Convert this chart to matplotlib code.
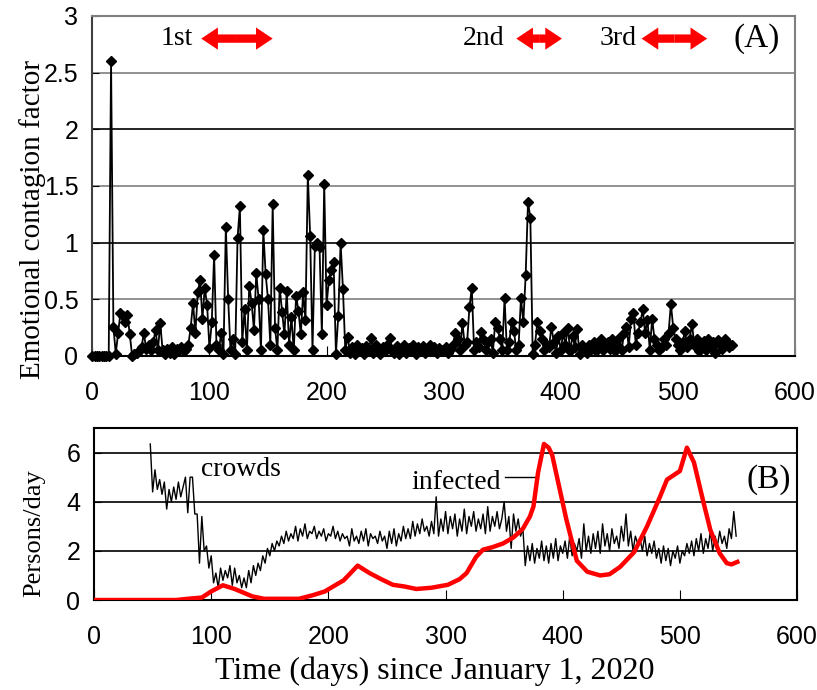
import numpy as np
import matplotlib
matplotlib.use("Agg")
import matplotlib.pyplot as plt

# (A) emotional contagion factor, one value every 2 days from day 0
contagion_days = np.arange(0, 548, 2)
contagion = [
    0, 0, 0, 0, 0, 0, 0, 0, 2.6, 0.26,
    0.02, 0.2, 0.38, 0.35, 0.3, 0.36, 0.19, 0.0, 0.02, 0.03,
    0.04, 0.08, 0.2, 0.06, 0.1, 0.05, 0.12, 0.23, 0.05, 0.29,
    0.05, 0.02, 0.06, 0.03, 0.08, 0.02, 0.06, 0.05, 0.08, 0.04,
    0.06, 0.1, 0.25, 0.47, 0.2, 0.56, 0.67, 0.33, 0.6, 0.45,
    0.07, 0.3, 0.89, 0.1, 0.05, 0.2, 0.02, 1.14, 0.5, 0.05,
    0.15, 0.02, 1.04, 1.32, 0.12, 0.41, 0.05, 0.62, 0.47, 0.23,
    0.73, 0.5, 0.05, 1.11, 0.72, 0.5, 0.1, 1.34, 0.25, 0.05,
    0.6, 0.39, 0.19, 0.57, 0.1, 0.34, 0.05, 0.53, 0.4, 0.19,
    0.56, 0.32, 1.6, 1.06, 0.05, 0.97, 1.0, 0.96, 0.19, 1.52,
    0.45, 0.67, 0.76, 0.83, 0.02, 0.35, 1.0, 0.59, 0.05, 0.17,
    0.03, 0.08, 0.02, 0.1, 0.04, 0.07, 0.02, 0.09, 0.05, 0.16,
    0.03, 0.1, 0.06, 0.02, 0.08, 0.04, 0.1, 0.16, 0.05, 0.03,
    0.09, 0.02, 0.05, 0.1, 0.03, 0.07, 0.04, 0.1, 0.02, 0.08,
    0.05, 0.09, 0.03, 0.06, 0.1, 0.04, 0.08, 0.03, 0.07, 0.05,
    0.05, 0.08, 0.03, 0.06, 0.1, 0.2, 0.15, 0.05, 0.29, 0.1,
    0.12, 0.43, 0.6, 0.05, 0.12, 0.08, 0.21, 0.15, 0.05, 0.12,
    0.15, 0.03, 0.3, 0.25, 0.15, 0.05, 0.51, 0.05, 0.12, 0.3,
    0.22, 0.05, 0.1, 0.51, 0.3, 0.71, 1.36, 1.22, 0.02, 0.1,
    0.3, 0.22, 0.15, 0.05, 0.1, 0.08, 0.26, 0.12, 0.03, 0.18,
    0.05, 0.2, 0.1, 0.25, 0.04, 0.18, 0.08, 0.24, 0.02, 0.1,
    0.05, 0.03, 0.1, 0.06, 0.12, 0.04, 0.08, 0.15, 0.05, 0.1,
    0.12, 0.06, 0.15, 0.04, 0.1, 0.16, 0.05, 0.2, 0.26, 0.08,
    0.33, 0.38, 0.1, 0.2, 0.3, 0.41, 0.2, 0.32, 0.05, 0.33,
    0.15, 0.1, 0.05, 0.08, 0.15, 0.1, 0.2, 0.46, 0.25, 0.15,
    0.1, 0.05, 0.12, 0.22, 0.08, 0.15, 0.28, 0.1, 0.15, 0.04,
    0.1, 0.13, 0.05, 0.15, 0.08, 0.12, 0.03, 0.14, 0.1, 0.06,
    0.15, 0.12, 0.08, 0.1,
]

# (B) crowds, one value every 2 days from day 48
crowd_days = np.arange(48, 549, 2)
crowds = [
    6.35, 4.4, 5.3, 4.5, 4.9, 4.3, 4.8, 3.7, 4.5, 4.0,
    4.6, 4.1, 4.8, 4.2, 4.6, 5.0, 3.55, 5.0, 5.0, 3.5,
    3.5, 1.5, 3.4, 2.0, 2.2, 1.3, 1.8, 0.7, 1.1, 0.5,
    1.3, 0.8, 1.2, 0.9, 1.4, 0.6, 1.3, 0.7, 1.0, 0.5,
    0.9, 0.5, 1.2, 0.7, 1.4, 1.0, 1.5, 1.2, 1.8, 1.5,
    2.1, 1.8, 2.3, 2.0, 2.4, 2.2, 2.6, 2.3, 2.8, 2.4,
    2.7, 2.5, 3.0, 2.4, 2.9, 2.6, 3.1, 2.5, 2.8, 2.7,
    3.0, 2.5, 2.8, 2.6, 2.9, 2.4, 2.7, 2.6, 3.0, 2.5,
    2.8, 2.4, 2.7, 2.5, 2.6, 2.2, 2.9, 2.4, 2.6, 2.3,
    2.8, 2.4, 2.9, 2.2, 2.7, 2.5, 2.6, 2.3, 2.8, 2.4,
    2.6, 2.1, 2.8, 2.3, 2.9, 2.2, 2.7, 2.4, 3.0, 2.5,
    2.9, 2.5, 3.2, 2.6, 3.1, 2.7, 3.3, 2.8, 3.0, 2.6,
    3.2, 2.7, 4.2, 2.6, 3.3, 2.8, 3.6, 2.7, 3.4, 2.9,
    3.5, 2.6, 3.3, 2.8, 3.7, 2.7, 3.4, 3.0, 3.6, 2.8,
    3.3, 2.9, 3.5, 2.7, 3.8, 2.8, 3.4, 3.0, 3.6, 2.9,
    3.3, 4.0, 2.8, 3.4, 2.1, 3.5, 2.8, 3.3, 2.6, 2.9,
    1.4, 2.2, 1.6, 2.3, 1.5, 2.1, 1.7, 2.4, 1.6, 2.2,
    1.5, 2.3, 1.7, 2.5, 1.6, 2.2, 1.9, 2.4, 1.7, 2.6,
    1.8, 2.3, 2.0, 2.5, 1.7, 3.1, 2.0, 2.6, 1.9, 2.7,
    2.1, 2.8, 1.9, 3.1, 2.2, 2.7, 2.0, 2.9, 2.3, 2.6,
    2.1, 3.0, 2.4, 3.5, 2.2, 2.8, 2.0, 2.6, 2.3, 2.5,
    2.0, 2.6, 1.8, 2.3, 1.9, 2.4, 1.7, 2.1, 1.5, 2.2,
    1.6, 2.1, 1.4, 2.0, 1.7, 2.2, 1.5, 2.0, 1.8, 2.3,
    1.9, 2.4, 1.8, 2.5, 2.0, 2.7, 1.9, 2.5, 2.1, 2.8,
    2.0, 2.6, 2.2, 2.8, 2.3, 2.6, 2.1, 2.9, 2.5, 3.6,
    2.6,
]

# (B) infected (smooth curve, read at key days)
infected_days = [0, 70, 80, 92, 100, 110, 120, 135, 145, 175, 187, 197, 204, 213,
                 225, 235, 245, 255, 265, 275, 288, 302, 312, 318, 326, 332, 340,
                 349, 358, 366, 372, 375, 379, 384, 388, 391, 397, 403, 412, 421,
                 432, 440, 449, 461, 472, 483, 489, 500, 506, 512, 520, 526, 534,
                 540, 544, 549]
infected = [0.0, 0.0, 0.05, 0.1, 0.35, 0.6, 0.45, 0.15, 0.05, 0.05, 0.2, 0.35,
            0.55, 0.8, 1.4, 1.1, 0.85, 0.62, 0.55, 0.45, 0.5, 0.62, 0.85, 1.1,
            1.75, 2.05, 2.15, 2.3, 2.55, 2.9, 3.4, 3.8, 5.2, 6.35, 6.2, 5.9,
            4.6, 3.3, 1.6, 1.15, 1.0, 1.05, 1.35, 1.95, 3.0, 4.2, 4.9, 5.25,
            6.2, 5.6, 4.0, 2.85, 1.9, 1.5, 1.45, 1.55]

xticks = [0, 100, 200, 300, 400, 500, 600]
yticks_a = [0, 0.5, 1, 1.5, 2, 2.5, 3]
ylabels_a = ["0", "0.5", "1", "1.5", "2", "2.5", "3"]
yticks_b = [0, 2, 4, 6]

# waves: label, text position (day), arrow start, arrow end
waves = ["1st", "2nd", "3rd"]
wave_text = [72, 334, 449]
wave_start = [93, 362, 469]
wave_end = [154, 401, 525]

serif = "Liberation Serif"
tickfont = ["Liberation Sans Narrow", "Liberation Sans"]

fig = plt.figure(figsize=(8.17, 6.9), dpi=100)
ax1 = fig.add_axes([0.1130, 0.4841, 0.8601, 0.4928])
ax2 = fig.add_axes([0.1151, 0.1304, 0.8605, 0.2493])

# ---- panel A
for y in yticks_a[1:-1]:
    ax1.axhline(y, color="black" if y % 1 == 0 else "#7f7f7f", lw=1.2, zorder=1)
ax1.plot(contagion_days, contagion, color="black", lw=1.3, marker="D", ms=5,
         zorder=3, clip_on=False)
ax1.set_xlim(0, 600)
ax1.set_ylim(0, 3)
ax1.set_xticks(xticks)
ax1.set_yticks(yticks_a)
ax1.set_yticklabels(ylabels_a)
ax1.set_ylabel("Emotional contagion factor", family=serif, fontsize=21)
ax1.yaxis.set_label_coords(-0.066, 0.4)
for s in ["top", "right"]:
    ax1.spines[s].set_color("#7f7f7f")
for s in ax1.spines.values():
    s.set_linewidth(1.5)
ax1.spines["left"].set_color("#404040")

# double red arrows: two filled arrows drawn outward from the middle
arrow_style = "simple,head_length=0.6,head_width=0.8,tail_width=0.3"
for name, tx, x0, x1 in zip(waves, wave_text, wave_start, wave_end):
    ax1.text(tx, 2.8, name, family=serif, fontsize=20, ha="center", va="center")
    mid = (x0 + x1) / 2
    for end in [x0, x1]:
        ax1.annotate("", xy=(end, 2.8), xytext=(mid, 2.8),
                     arrowprops=dict(arrowstyle=arrow_style, color="red", lw=0,
                                     mutation_scale=20, shrinkA=0, shrinkB=0))
ax1.text(567, 2.8, "(A)", family=serif, fontsize=24, ha="center", va="center")

# ---- panel B
for y in yticks_b[1:]:
    ax2.axhline(y, color="black", lw=1.2, zorder=1)
ax2.plot(crowd_days, crowds, color="black", lw=1.0, zorder=3)
ax2.plot(infected_days, infected, color="red", lw=3.2, zorder=4)
ax2.set_xlim(0, 600)
ax2.set_ylim(0, 7)
ax2.set_xticks(xticks)
ax2.set_yticks(yticks_b)
ax2.set_ylabel("Persons/day", family=serif, fontsize=19)
ax2.yaxis.set_label_coords(-0.07, 0.39)
for s in ax2.spines.values():
    s.set_linewidth(1.5)

ax2.text(91, 5.3, "crowds", family=serif, fontsize=20, ha="left", va="center")
ax2.text(347, 4.8, "infected", family=serif, fontsize=20, ha="right", va="center")
ax2.plot([351, 376], [5.0, 5.0], color="black", lw=1.0)
ax2.text(576, 4.9, "(B)", family=serif, fontsize=24, ha="center", va="center")

ax2.set_xlabel("Time (days) since January 1, 2020", family=serif, fontsize=23)
ax2.xaxis.set_label_coords(0.485, -0.33)

for ax in [ax1, ax2]:
    ax.tick_params(axis="x", direction="in", length=7, pad=18, labelsize=18)
    ax.tick_params(axis="y", direction="in", length=5, pad=10, labelsize=18)
    for lab in ax.get_xticklabels() + ax.get_yticklabels():
        lab.set_family(tickfont)

fig.savefig("out.png", dpi=100)
